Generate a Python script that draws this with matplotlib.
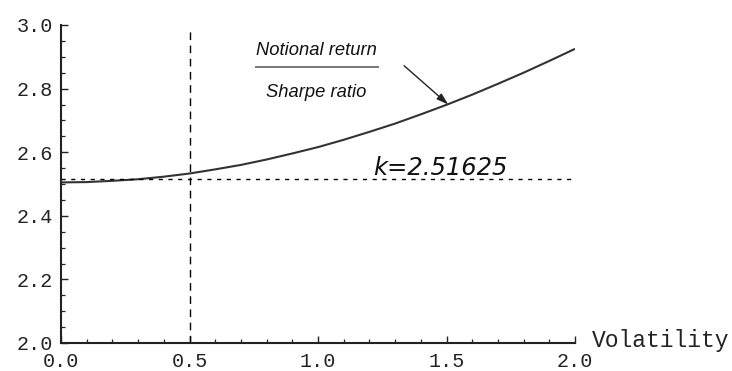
import matplotlib
matplotlib.use("Agg")
import matplotlib.pyplot as plt
from matplotlib.ticker import MultipleLocator

# values
volatility = [0.0, 0.1, 0.2, 0.3, 0.4, 0.5, 0.6, 0.7, 0.8, 0.9, 1.0,
              1.1, 1.2, 1.3, 1.4, 1.5, 1.6, 1.7, 1.8, 1.9, 2.0]
ratio = [2.505, 2.506, 2.510, 2.515, 2.523, 2.533, 2.546, 2.560, 2.577,
         2.596, 2.616, 2.639, 2.664, 2.690, 2.719, 2.749, 2.781, 2.815,
         2.850, 2.887, 2.925]
k_value = 2.51625
vol_mark = 0.5
x_ticks = [0.0, 0.5, 1.0, 1.5, 2.0]
y_ticks = [2.0, 2.2, 2.4, 2.6, 2.8, 3.0]

MONO = ["Liberation Mono", "DejaVu Sans Mono"]
SANS = ["Liberation Sans", "DejaVu Sans"]
WIDE = ["DejaVu Sans"]
INK = "#222222"

fig = plt.figure(figsize=(7.32, 3.71), dpi=100)
ax = fig.add_axes([61 / 732, 28 / 371, 514 / 732, 318 / 371])

ax.plot(volatility, ratio, color="#333333", linewidth=1.5, solid_capstyle="butt")
ax.plot([0.0, 2.0], [k_value, k_value], color="black", linewidth=1.0,
        linestyle=(0, (3, 4)))
ax.plot([vol_mark, vol_mark], [2.0, 2.98], color="black", linewidth=1.0,
        linestyle=(0, (5.5, 4)))

ax.text(1.215, 2.528, "k=2.51625", fontsize=17.5, style="italic",
        family=WIDE, color="#111111", ha="left", va="baseline")

ax.text(0.994, 2.906, "Notional return", fontsize=13.2, style="italic",
        family=SANS, color="#111111", ha="center", va="baseline")
ax.plot([0.758, 1.234], [2.869, 2.869], color="#777777", linewidth=1.4)
ax.text(0.994, 2.775, "Sharpe ratio", fontsize=13.2, style="italic",
        family=SANS, color="#111111", ha="center", va="baseline")
ax.annotate("", xy=(1.507, 2.750), xytext=(1.335, 2.872),
            arrowprops=dict(arrowstyle="-|>,head_length=0.7,head_width=0.22",
                            color="#222222", lw=1.0, shrinkA=0, shrinkB=0))

ax.set_xlim(0, 2)
ax.set_ylim(2, 3)
ax.set_xticks(x_ticks)
ax.set_yticks(y_ticks)
ax.set_xticklabels([f"{v:.1f}" for v in x_ticks])
ax.set_yticklabels([f"{v:.1f}" for v in y_ticks])
ax.xaxis.set_minor_locator(MultipleLocator(0.1))
ax.yaxis.set_minor_locator(MultipleLocator(0.05))

for side in ("top", "right"):
    ax.spines[side].set_visible(False)
for side in ("left", "bottom"):
    ax.spines[side].set_linewidth(1.5)
    ax.spines[side].set_color(INK)

ax.tick_params(which="major", direction="in", length=5, width=1.0,
               color=INK, labelcolor=INK, labelsize=14.5, pad=6)
ax.tick_params(axis="x", which="major", pad=6.5)
ax.tick_params(which="minor", direction="in", length=3.2, width=0.9, color=INK)
for lab in ax.get_xticklabels() + ax.get_yticklabels():
    lab.set_family(MONO)

fig.text(592 / 732, 1 - 341 / 371, "Volatility", family=MONO, fontsize=16.6,
         color=INK, ha="left", va="center")

fig.savefig("out.png", dpi=100, facecolor="white")
